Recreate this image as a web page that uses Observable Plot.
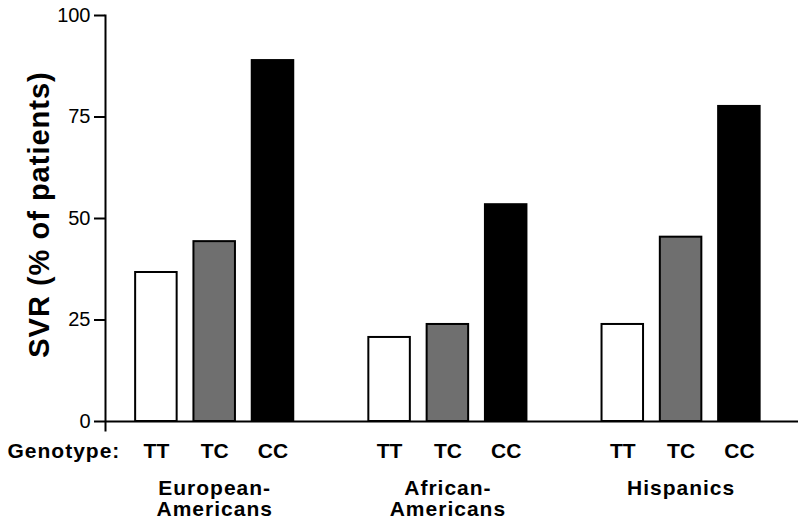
<!DOCTYPE html>
<html>
<head>
<meta charset="utf-8">
<script src="https://cdn.jsdelivr.net/npm/d3@7"></script>
<script src="https://cdn.jsdelivr.net/npm/@observablehq/plot@0.6"></script>
<style>
  html, body { margin: 0; padding: 0; background: #fff; }
  #chart svg { font-family: "Liberation Sans", Arial, Helvetica, sans-serif; color: #000; }
  #chart g[aria-label="text"] text { letter-spacing: 1px; }
</style>
</head>
<body>
<div id="chart"></div>
<script>
// ---- data ----
const groups = ["European-Americans", "African-Americans", "Hispanics"];
const groupLabels = ["European-\nAmericans", "African-\nAmericans", "Hispanics"];
const genotypes = ["TT", "TC", "CC"];
const svrEuropean = [36.7, 44.3, 88.9];
const svrAfrican = [20.7, 23.9, 53.4];
const svrHispanic = [23.9, 45.4, 77.6];
const genotypeFills = ["#ffffff", "#6f6f6f", "#000000"];
const yTicks = [0, 25, 50, 75, 100];

const seriesByGroup = [svrEuropean, svrAfrican, svrHispanic];

// build table + band domain (with one empty slot between groups)
const rows = [];
const domain = [];
groups.forEach((g, gi) => {
  genotypes.forEach((gt, ti) => {
    const key = g + "|" + gt;
    domain.push(key);
    rows.push({group: g, genotype: gt, key, value: seriesByGroup[gi][ti], fill: genotypeFills[ti]});
  });
  if (gi < groups.length - 1) domain.push("gap" + gi);
});
const barKeys = rows.map(d => d.key);
const groupRows = groups.map((g, i) => ({key: g + "|TC", label: groupLabels[i]}));

const chart = Plot.plot({
  width: 800,
  height: 525,
  marginTop: 15,
  marginBottom: 104,
  marginLeft: 105,
  marginRight: 2,
  style: {fontFamily: "'Liberation Sans', Arial, Helvetica, sans-serif", color: "#000"},
  x: {domain, paddingInner: 0.288, paddingOuter: 0.5875, align: 0.44, round: false, axis: null},
  y: {domain: [0, 100], axis: null},
  marks: [
    Plot.barY(rows, {x: "key", y: "value", fill: "fill", stroke: "#000", strokeWidth: 2}),
    Plot.ruleY([0], {stroke: "#000", strokeWidth: 2}),
    Plot.frame({anchor: "left", stroke: "#000", strokeWidth: 2, insetBottom: -9}),
    Plot.axisY({ticks: yTicks, tickSize: 11, tickPadding: 4, fontSize: 20, strokeWidth: 2, label: null}),
    Plot.axisX({ticks: barKeys, tickFormat: k => k.split("|")[1], tickSize: 0, tickPadding: 22,
      fontSize: 21, fontWeight: "bold", label: null}),
    Plot.text(groupRows, {x: "key", y: () => 0, text: "label", lineAnchor: "top", dy: 59,
      fontSize: 21, fontWeight: "bold", lineHeight: 1.0, textAnchor: "middle"}),
    Plot.text(["Genotype:"], {frameAnchor: "bottom-left", textAnchor: "start", lineAnchor: "top",
      dx: -98, dy: 22, fontSize: 21, fontWeight: "bold"}),
    Plot.text(["SVR (% of patients)"], {frameAnchor: "left", rotate: -90, textAnchor: "middle",
      lineAnchor: "bottom", dx: -57, dy: -4, fontSize: 29, fontWeight: "bold"})
  ]
});
document.getElementById("chart").appendChild(chart);
</script>
</body>
</html>
